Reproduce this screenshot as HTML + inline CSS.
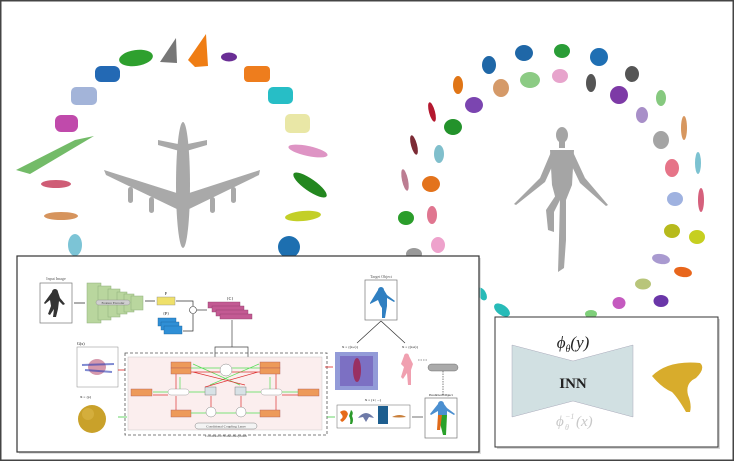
<!DOCTYPE html>
<html><head><style>
html,body{margin:0;padding:0;background:#fff;}
svg{display:block;font-family:"Liberation Serif",serif;}
</style></head><body>
<svg width="734" height="461" viewBox="0 0 734 461" xmlns="http://www.w3.org/2000/svg">
<rect x="0.5" y="0.5" width="733" height="460" fill="#fff" stroke="#444" stroke-width="2"/>
<!-- Left ring blobs -->
<g>
<ellipse cx="136" cy="58" rx="17" ry="8" fill="#2ea02e" transform="rotate(-8 136 58)"/>
<polygon points="160,62 176,38 177,63" fill="#777"/>
<polygon points="188,60 206,34 208,66 195,67" fill="#ef7d14"/>
<ellipse cx="229" cy="57" rx="8" ry="4.5" fill="#6a2e95"/>
<rect x="95" y="66" width="25" height="16" rx="6" fill="#2369b4"/>
<rect x="244" y="66" width="26" height="16" rx="4" fill="#ee7d1d"/>
<rect x="71" y="87" width="26" height="18" rx="5" fill="#a3b4d9"/>
<rect x="268" y="87" width="25" height="17" rx="5" fill="#27bec6"/>
<rect x="55" y="115" width="23" height="17" rx="6" fill="#c04aab"/>
<rect x="285" y="114" width="25" height="19" rx="5" fill="#e9e7a6"/>
<polygon points="16,170 30,174 94,136 75,140" fill="#73bb68"/>
<ellipse cx="308" cy="151" rx="20" ry="5" fill="#de94c4" transform="rotate(12 308 151)"/>
<ellipse cx="310" cy="185" rx="20" ry="6" fill="#23871f" transform="rotate(35 310 185)"/>
<ellipse cx="56" cy="184" rx="15" ry="4" fill="#cf5d76"/>
<ellipse cx="61" cy="216" rx="17" ry="4" fill="#d6945d"/>
<ellipse cx="303" cy="216" rx="18" ry="5" fill="#c3cf27" transform="rotate(-5 303 216)"/>
<ellipse cx="75" cy="245" rx="7" ry="11" fill="#7cc4d6"/>
<ellipse cx="289" cy="247" rx="11" ry="11" fill="#1d6fb0"/>
</g>
<!-- Airplane -->
<g fill="#a9a9a9">
<ellipse cx="183" cy="185" rx="7" ry="63"/>
<polygon points="183,195 104,170 106,175 183,212"/>
<polygon points="183,195 260,170 259,175 183,212"/>
<polygon points="183,145 158,140 158,145 183,152"/>
<polygon points="183,145 207,140 207,145 183,152"/>
<rect x="128" y="187" width="5" height="16" rx="2.5"/>
<rect x="149" y="197" width="5" height="16" rx="2.5"/>
<rect x="210" y="197" width="5" height="16" rx="2.5"/>
<rect x="231" y="187" width="5" height="16" rx="2.5"/>
</g>
<!-- Right ring blobs -->
<g>
<ellipse cx="489" cy="65" rx="7" ry="9" fill="#1f67a7"/>
<ellipse cx="524" cy="53" rx="9" ry="8" fill="#1f67a7"/>
<ellipse cx="562" cy="51" rx="8" ry="7" fill="#2a9d37"/>
<ellipse cx="599" cy="57" rx="9" ry="9" fill="#1f6fb3"/>
<ellipse cx="458" cy="85" rx="5" ry="9" fill="#e07516"/>
<ellipse cx="501" cy="88" rx="8" ry="9" fill="#d59a69"/>
<ellipse cx="530" cy="80" rx="10" ry="8" fill="#8ccb84"/>
<ellipse cx="560" cy="76" rx="8" ry="7" fill="#e7a4cc"/>
<ellipse cx="591" cy="83" rx="5" ry="9" fill="#555"/>
<ellipse cx="632" cy="74" rx="7" ry="8" fill="#555"/>
<ellipse cx="619" cy="95" rx="9" ry="9" fill="#7d3aa6"/>
<ellipse cx="432" cy="112" rx="3" ry="10" fill="#b4182f" transform="rotate(-15 432 112)"/>
<ellipse cx="474" cy="105" rx="9" ry="8" fill="#7b45b0"/>
<ellipse cx="661" cy="98" rx="5" ry="8" fill="#86c97f"/>
<ellipse cx="453" cy="127" rx="9" ry="8" fill="#23922b"/>
<ellipse cx="642" cy="115" rx="6" ry="8" fill="#a88fc8"/>
<ellipse cx="684" cy="128" rx="3" ry="12" fill="#d7975f"/>
<ellipse cx="414" cy="145" rx="3" ry="10" fill="#7c2b35" transform="rotate(-15 414 145)"/>
<ellipse cx="439" cy="154" rx="5" ry="9" fill="#80bfcc"/>
<ellipse cx="661" cy="140" rx="8" ry="9" fill="#a4a4a4"/>
<ellipse cx="672" cy="168" rx="7" ry="9" fill="#e67488"/>
<ellipse cx="698" cy="163" rx="3" ry="11" fill="#7cc2d1"/>
<ellipse cx="405" cy="180" rx="3" ry="11" fill="#bc7d92" transform="rotate(-12 405 180)"/>
<ellipse cx="431" cy="184" rx="9" ry="8" fill="#e3731c"/>
<ellipse cx="675" cy="199" rx="8" ry="7" fill="#9fb2e0"/>
<ellipse cx="701" cy="200" rx="3" ry="12" fill="#d5607c"/>
<ellipse cx="406" cy="218" rx="8" ry="7" fill="#2b9d2b"/>
<ellipse cx="432" cy="215" rx="5" ry="9" fill="#e07690"/>
<ellipse cx="672" cy="231" rx="8" ry="7" fill="#b7ba1c"/>
<ellipse cx="697" cy="237" rx="8" ry="7" fill="#c6cf20"/>
<ellipse cx="438" cy="245" rx="7" ry="8" fill="#eea2cc"/>
<ellipse cx="414" cy="254" rx="8" ry="6" fill="#999"/>
<ellipse cx="482" cy="294" rx="4" ry="7" fill="#27bbb8" transform="rotate(-30 482 294)"/>
<ellipse cx="502" cy="310" rx="9" ry="5" fill="#27bbb8" transform="rotate(35 502 310)"/>
<ellipse cx="661" cy="259" rx="9" ry="5" fill="#a99ad0" transform="rotate(10 661 259)"/>
<ellipse cx="683" cy="272" rx="9" ry="5" fill="#e8661c" transform="rotate(10 683 272)"/>
<ellipse cx="643" cy="284" rx="8" ry="5.5" fill="#b8c57a"/>
<ellipse cx="619" cy="303" rx="6.5" ry="6" fill="#c45abf"/>
<ellipse cx="661" cy="301" rx="7.5" ry="6" fill="#6a36a8"/>
<ellipse cx="591" cy="314" rx="6" ry="4" fill="#7fcf7a"/>
</g>
<!-- Human -->
<g fill="#a5a5a5">
<ellipse cx="562" cy="135" rx="6" ry="8"/>
<rect x="559" y="141" width="6" height="7"/>
<path d="M550,150 L574,150 L572,185 L566,200 L556,200 L552,185 Z"/>
<path d="M551,152 L540,178 L514,204 L516,205 L545,182 L555,160 Z"/>
<path d="M573,152 L585,178 L608,205 L606,206 L580,183 L569,160 Z"/>
<path d="M556,195 L546,210 L548,230 L554,232 L554,212 L560,200 Z"/>
<path d="M560,198 L566,198 L566,240 L564,268 L558,272 L559,240 Z"/>
</g>
<!-- Left diagram box -->
<rect x="19" y="258" width="462" height="196" fill="#ccc" opacity="0.6"/>
<rect x="17" y="256" width="462" height="196" fill="#fff" stroke="#333" stroke-width="1.2"/>
<text x="56" y="280" font-size="4" text-anchor="middle" fill="#555">Input Image</text>
<rect x="40" y="283" width="32" height="40" fill="#fff" stroke="#777" stroke-width="0.7"/>
<path d="M52,292 a3,3 0 1 1 6,0 l2,6 l5,6 l-2,1 l-4,-4 l-1,8 l-2,8 l-3,0 l1,-8 l-4,6 l-2,-1 l3,-8 l-1,-6 l-5,4 l-1,-1 z" fill="#333"/>
<line x1="74" y1="303" x2="85" y2="303" stroke="#333" stroke-width="0.8"/>
<g fill="#b9d69e" stroke="#8fb07a" stroke-width="0.5">
<rect x="87" y="283" width="14" height="40"/><rect x="98" y="286" width="13" height="34"/><rect x="108" y="289" width="12" height="28"/><rect x="117" y="292" width="10" height="22"/><rect x="124" y="294" width="10" height="18"/><rect x="131" y="296" width="12" height="14"/>
</g>
<rect x="96" y="300" width="34" height="5" rx="2.5" fill="#cfcfcf" stroke="#888" stroke-width="0.4"/>
<text x="113" y="304" font-size="3.5" text-anchor="middle" fill="#444">Feature Encoder</text>
<line x1="145" y1="301" x2="155" y2="301" stroke="#333" stroke-width="0.8"/>
<text x="166" y="295" font-size="4" text-anchor="middle">F</text>
<rect x="157" y="297" width="18" height="8" fill="#efe06a" stroke="#888" stroke-width="0.4"/>
<g fill="#2f8fd6" stroke="#1a5f99" stroke-width="0.4"><rect x="158" y="318" width="18" height="8"/><rect x="161" y="322" width="18" height="8"/><rect x="164" y="326" width="18" height="8"/></g>
<text x="166" y="315" font-size="4" text-anchor="middle">{P}</text>
<path d="M176,301 H193 V306 M183,331 H193 V314" fill="none" stroke="#333" stroke-width="0.7"/>
<circle cx="193" cy="310" r="3.5" fill="#fff" stroke="#333" stroke-width="0.6"/>
<line x1="197" y1="310" x2="207" y2="310" stroke="#333" stroke-width="0.7"/>
<g fill="#c35a93" stroke="#8a3a66" stroke-width="0.4"><rect x="208" y="302" width="32" height="6"/><rect x="212" y="306" width="32" height="6"/><rect x="216" y="310" width="32" height="6"/><rect x="220" y="314" width="32" height="5"/></g>
<text x="230" y="300" font-size="4" text-anchor="middle">{C}</text>
<path d="M232,320 V347 H215 V372 M232,347 H248 V372" fill="none" stroke="#444" stroke-width="0.7"/>
<text x="381" y="278" font-size="4" text-anchor="middle" fill="#555">Target Object</text>
<rect x="365" y="280" width="32" height="40" fill="#fff" stroke="#777" stroke-width="0.7"/>
<path d="M378,290 a3,3 0 1 1 6,0 l3,5 l8,6 l-1,1 l-7,-4 l0,8 l-2,12 l-3,0 l0,-10 l-2,-3 l-2,-5 l-8,4 l0,-1 z" fill="#2f7fc1"/>
<path d="M381,321 L357,343 M381,321 L405,343" stroke="#333" stroke-width="0.7"/>
<text x="350" y="348" font-size="3.5" text-anchor="middle">X = {(x,o)}</text>
<text x="410" y="348" font-size="3.5" text-anchor="middle">X = {(x,n)}</text>
<rect x="335" y="352" width="43" height="38" fill="#3a48b8" opacity="0.55"/>
<rect x="340" y="356" width="33" height="30" fill="#5b2fa6" opacity="0.4"/>
<ellipse cx="357" cy="370" rx="4" ry="12" fill="#a0204a" opacity="0.8"/>
<path d="M404,356 a2.5,2.5 0 1 1 5,0 l4,8 l-2,6 l0,15 l-3,0 l-1,-12 l-4,6 l-2,-2 l3,-10 l-3,-3 z" fill="#f0a0b0"/>
<rect x="428" y="364" width="30" height="7" rx="3.5" fill="#aaa" stroke="#555" stroke-width="0.4"/>
<line x1="443" y1="371" x2="443" y2="395" stroke="#333" stroke-width="0.6" stroke-dasharray="1.5,1"/>
<line x1="427" y1="360" x2="418" y2="360" stroke="#333" stroke-width="0.6" stroke-dasharray="1.5,1"/>
<text x="77" y="345" font-size="4">G(x)</text>
<rect x="77" y="347" width="41" height="40" fill="#fff" stroke="#888" stroke-width="0.5"/>
<ellipse cx="97" cy="367" rx="9" ry="8" fill="#b57" opacity="0.6"/>
<path d="M82,365 L114,364 M85,370 L112,372" stroke="#2d3fb5" stroke-width="2" opacity="0.6"/>
<text x="80" y="398" font-size="3.5">X = {p}</text>
<circle cx="92" cy="419" r="14" fill="#c9a12a"/>
<circle cx="88" cy="414" r="6" fill="#dcb84a" opacity="0.6"/>
<line x1="118" y1="417" x2="127" y2="417" stroke="#4c4" stroke-width="0.8"/>
<line x1="125" y1="370" x2="118" y2="370" stroke="#d22" stroke-width="0.8"/>
<rect x="125" y="353" width="202" height="82" fill="none" stroke="#555" stroke-width="0.8" stroke-dasharray="3,2"/>
<rect x="128" y="357" width="194" height="73" fill="#fbeeee" stroke="#bbb" stroke-width="0.4"/>
<g fill="#ed9a5a" stroke="#a55" stroke-width="0.4">
<rect x="171" y="362" width="20" height="6"/><rect x="171" y="368" width="20" height="6"/>
<rect x="260" y="362" width="20" height="6"/><rect x="260" y="368" width="20" height="6"/>
<rect x="131" y="389" width="21" height="7"/><rect x="298" y="389" width="21" height="7"/>
<rect x="171" y="410" width="20" height="7"/><rect x="260" y="410" width="20" height="7"/>
</g>
<circle cx="226" cy="370" r="6" fill="#fff" stroke="#888" stroke-width="0.5"/>
<circle cx="211" cy="412" r="5" fill="#fff" stroke="#888" stroke-width="0.5"/>
<circle cx="241" cy="412" r="5" fill="#fff" stroke="#888" stroke-width="0.5"/>
<rect x="168" y="389" width="21" height="6" rx="3" fill="#fff" stroke="#888" stroke-width="0.4"/>
<rect x="261" y="389" width="21" height="6" rx="3" fill="#fff" stroke="#888" stroke-width="0.4"/>
<rect x="205" y="387" width="11" height="8" fill="#d8e2e6" stroke="#666" stroke-width="0.4"/>
<rect x="235" y="387" width="11" height="8" fill="#d8e2e6" stroke="#666" stroke-width="0.4"/>
<g stroke="#5d5" stroke-width="0.7" fill="none">
<path d="M191,368 H220 M232,368 H260 M153,392 H168 M189,392 H205 M246,392 H261 M282,392 H298 M191,413 H206 M216,413 H236 M246,413 H260 M180,377 V389 M270,377 V389 M193,364 L240,385 M259,364 L210,385"/>
</g>
<g stroke="#d33" stroke-width="0.7" fill="none">
<path d="M191,372 H220 M232,372 H260 M176,374 V389 M276,374 V389 M176,396 V410 M276,396 V410 M211,396 V407 M241,396 V407 M193,372 L245,385 M258,372 L205,387 M282,395 H298 M153,395 H168"/>
</g>
<rect x="195" y="423" width="62" height="6" rx="3" fill="#f4f4f4" stroke="#666" stroke-width="0.4"/>
<text x="226" y="427.5" font-size="3.5" text-anchor="middle" fill="#444">Conditional Coupling Layer</text>
<text x="226" y="437" font-size="3.5" text-anchor="middle" fill="#444">Conditional Homeomorphism</text>
<line x1="327" y1="417" x2="335" y2="417" stroke="#4c4" stroke-width="0.8"/>
<line x1="333" y1="367" x2="325" y2="367" stroke="#d22" stroke-width="0.8"/>
<text x="373" y="401" font-size="3.5" text-anchor="middle">X = {x | ...}</text>
<rect x="337" y="405" width="73" height="23" fill="#fff" stroke="#666" stroke-width="0.5"/>
<path d="M340,412 q6,-4 8,2 q-2,6 -6,8 l-2,-2 q4,-3 2,-5 z" fill="#e66b1a"/>
<path d="M351,410 q3,2 1,6 q2,4 0,8 l-2,0 q1,-5 -1,-8 z" fill="#2a9a2a"/>
<path d="M358,418 q8,-10 16,0 l-5,-1 l-3,5 l-3,-5 z" fill="#6e7aa8"/>
<rect x="378" y="406" width="10" height="18" fill="#1d5e8f"/>
<path d="M392,417 q8,-4 14,0 q-7,1 -14,0 z" fill="#c97f3a"/>
<line x1="412" y1="417" x2="423" y2="417" stroke="#333" stroke-width="0.7"/>
<text x="441" y="396" font-size="3.5" text-anchor="middle">Predicted Object</text>
<rect x="425" y="398" width="32" height="40" fill="#fff" stroke="#777" stroke-width="0.7"/>
<path d="M438,404 a3,3 0 1 1 6,0 l3,4 l8,6 l-1,1 l-7,-4 l0,4 l-9,0 l0,-4 l-7,4 l-1,-1 z" fill="#4b8fd0"/>
<path d="M438,415 l9,0 l-1,20 l-3,0 z" fill="#2aa12a"/>
<path d="M438,415 l4,0 l-2,15 l-3,0 z" fill="#e06a1a"/>
<!-- INN box -->
<rect x="497" y="319" width="223" height="130" fill="#bbb" opacity="0.6"/>
<rect x="495" y="317" width="223" height="130" fill="#fff" stroke="#333" stroke-width="1"/>
<polygon points="512,345 573,361 633,345 633,417 573,401 512,417" fill="#d1e0e2" stroke="#aab" stroke-width="0.5"/>
<text x="573" y="348" font-size="17" text-anchor="middle" font-style="italic" fill="#222">ϕ<tspan font-size="10" dy="4">θ</tspan><tspan dy="-4">(y)</tspan></text>
<text x="573" y="388" font-size="15" font-weight="bold" text-anchor="middle" fill="#222">INN</text>
<text x="556" y="426" font-size="15" font-style="italic" fill="#c8c8c8">ϕ</text>
<text x="565" y="419" font-size="8" font-style="italic" fill="#c8c8c8">−1</text>
<text x="565" y="430" font-size="8" font-style="italic" fill="#c8c8c8">θ</text>
<text x="576" y="426" font-size="15" font-style="italic" fill="#c8c8c8">(x)</text>
<path d="M652,376 Q668,360 700,363 Q706,368 696,378 Q685,383 688,395 Q692,405 690,412 L686,412 Q678,398 672,392 Q662,388 652,376 Z" fill="#d8ac2c"/>
</svg>
</body></html>
